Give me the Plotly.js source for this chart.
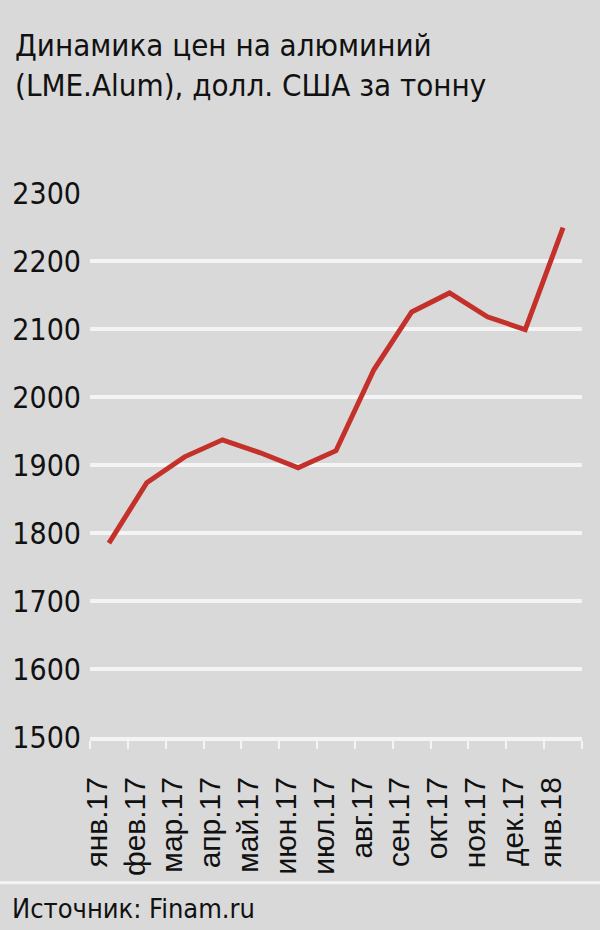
<!DOCTYPE html>
<html>
<head>
<meta charset="utf-8">
<script src="https://cdn.plot.ly/plotly-3.0.1.min.js"></script>
<style>
  html, body { margin: 0; padding: 0; background: #d9d9d9; }
  #chart { width: 600px; height: 930px; }
</style>
</head>
<body>
<div id="chart"></div>
<script>
const months = ["янв.17", "фев.17", "мар.17", "апр.17", "май.17", "июн.17", "июл.17",
                "авг.17", "сен.17", "окт.17", "ноя.17", "дек.17", "янв.18"];
const prices = [1785, 1874, 1912, 1937, 1918, 1896, 1921, 2040, 2125, 2153, 2118, 2099, 2249];
const yTicks = [1500, 1600, 1700, 1800, 1900, 2000, 2100, 2200, 2300];

const titleText = "Динамика цен на алюминий<br>(LME.Alum), долл. США за тонну";
const sourceText = "Источник: Finam.ru";

const condensed = "'DejaVu Sans Condensed', 'Liberation Sans Narrow', sans-serif";

const trace = {
  type: "scatter",
  mode: "lines",
  x: months,
  y: prices,
  line: { color: "#c4302a", width: 5 },
  hoverinfo: "skip"
};

const layout = {
  width: 600,
  height: 930,
  paper_bgcolor: "#d9d9d9",
  plot_bgcolor: "#d9d9d9",
  margin: { l: 90, r: 18, t: 193, b: 193, pad: 0 },
  showlegend: false,
  title: {
    text: titleText,
    font: { family: condensed, size: 31, color: "#111111" },
    xref: "container", yref: "container",
    x: 0.025, xanchor: "left",
    y: 0.94, yanchor: "top"
  },
  xaxis: {
    type: "category",
    range: [-0.5, 12.5],
    showgrid: false,
    zeroline: false,
    showline: true,
    linecolor: "#f4f4f4",
    linewidth: 4,
    ticks: "outside",
    tickson: "boundaries",
    ticklen: 8,
    tickwidth: 2,
    tickcolor: "#f4f4f4",
    tickangle: -90,
    ticklabelstandoff: 24,
    ticklabelshift: -12,
    tickfont: { family: "'Liberation Sans', Arial, sans-serif", size: 30, color: "#111111" },
    fixedrange: true
  },
  yaxis: {
    range: [1500, 2300],
    tickvals: yTicks,
    ticktext: yTicks.map(String),
    showgrid: true,
    gridcolor: "#f4f4f4",
    gridwidth: 4,
    zeroline: false,
    showline: false,
    ticks: "",
    ticklabelstandoff: 8,
    tickfont: { family: condensed, size: 30, color: "#111111" },
    fixedrange: true
  },
  shapes: [
    {
      type: "line", xref: "paper", yref: "paper",
      x0: -0.2, x1: 1.05, y0: -0.268, y1: -0.268,
      line: { color: "#f4f4f4", width: 3 }
    }
  ],
  annotations: [
    {
      text: sourceText,
      xref: "paper", yref: "paper",
      x: -0.1626, xanchor: "left",
      y: -0.316, yanchor: "middle",
      showarrow: false,
      font: { family: condensed, size: 27, color: "#111111" }
    }
  ]
};

Plotly.newPlot("chart", [trace], layout, { displayModeBar: false, staticPlot: true });
</script>
</body>
</html>
